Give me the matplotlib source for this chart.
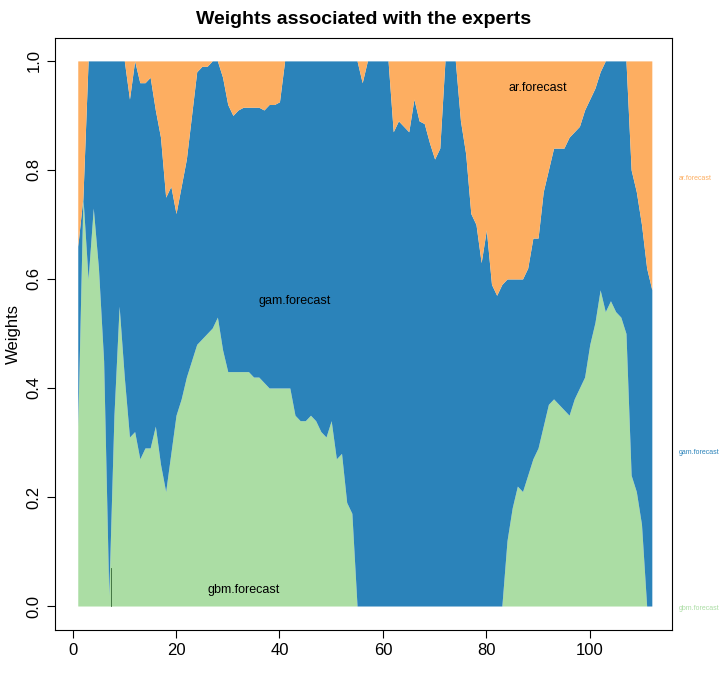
import numpy as np
import matplotlib
matplotlib.use("Agg")
import matplotlib.pyplot as plt

plt.rcParams["font.family"] = ["Liberation Sans", "DejaVu Sans"]

# weights, t = 1..112
gbm = [0.33, 0.75, 0.60, 0.73, 0.62, 0.45, 0.02, 0.35, 0.55, 0.42,
       0.31, 0.32, 0.27, 0.29, 0.29, 0.33, 0.26, 0.21, 0.28, 0.35,
       0.38, 0.42, 0.45, 0.48, 0.49, 0.50, 0.51, 0.53, 0.47, 0.43,
       0.43, 0.43, 0.43, 0.43, 0.42, 0.42, 0.41, 0.40, 0.40, 0.40,
       0.40, 0.40, 0.35, 0.34, 0.34, 0.35, 0.34, 0.32, 0.31, 0.34,
       0.27, 0.28, 0.19, 0.17, 0.0] + [0.0] * 28 + [
       0.12, 0.18, 0.22, 0.21, 0.24, 0.27, 0.29, 0.33, 0.37, 0.38,
       0.37, 0.36, 0.35, 0.38, 0.40, 0.42, 0.48, 0.52, 0.58, 0.54,
       0.56, 0.54, 0.53, 0.50, 0.24, 0.21, 0.15, 0.0, 0.0]
gbm_gam = [0.66, 0.75] + [1.0] * 8 + [
       0.93, 1.0, 0.96, 0.96, 0.97, 0.91, 0.86, 0.75, 0.77, 0.72,
       0.77, 0.82, 0.90, 0.98, 0.99, 0.99, 1.0, 1.0, 0.97, 0.92,
       0.90, 0.91, 0.915, 0.915, 0.915, 0.915, 0.91, 0.92, 0.92, 0.925] + [1.0] * 15 + [
       0.96, 1.0, 1.0, 1.0, 1.0, 1.0, 0.87, 0.89, 0.88, 0.87,
       0.93, 0.89, 0.885, 0.85, 0.82, 0.84, 1.0, 1.0, 1.0, 0.89,
       0.83, 0.72, 0.70, 0.63, 0.69, 0.59, 0.57, 0.59, 0.60, 0.60,
       0.60, 0.60, 0.62, 0.675, 0.675, 0.76, 0.80, 0.84, 0.84, 0.84,
       0.86, 0.87, 0.88, 0.91, 0.93, 0.95, 0.98, 1.0, 1.0, 1.0,
       1.0, 1.0, 0.80, 0.76, 0.70, 0.62, 0.58]
experts = ["gbm.forecast", "gam.forecast", "ar.forecast"]

C_GBM = "#abdda4"
C_GAM = "#2b83ba"
C_AR = "#fdae61"

t = np.arange(1, len(gbm) + 1)
gbm = np.array(gbm)
top = np.array(gbm_gam)

fig = plt.figure(figsize=(7.28, 6.87), dpi=100)
ax = fig.add_axes([55 / 728, 57 / 687, 617 / 728, 592 / 687])
ax.fill_between(t, 0, gbm, color=C_GBM, lw=0)
ax.fill_between(t, gbm, top, color=C_GAM, lw=0)
ax.fill_between(t, top, 1, color=C_AR, lw=0)
ax.plot([7.4, 7.4], [0, 0.07], color="#336633", lw=0.6)

ax.text(33, 0.03, experts[0], ha="center", va="center", fontsize=9)
ax.text(43, 0.56, experts[1], ha="center", va="center", fontsize=9)
ax.text(90, 0.95, experts[2], ha="center", va="center", fontsize=9)

ax.set_xlim(-3.4, 115.9)
ax.set_ylim(-0.044, 1.042)
ax.set_xticks([0, 20, 40, 60, 80, 100])
ax.set_yticks([0.0, 0.2, 0.4, 0.6, 0.8, 1.0])
ax.set_yticklabels(["0.0", "0.2", "0.4", "0.6", "0.8", "1.0"], rotation=90, va="center")
ax.tick_params(labelsize=12, length=6, direction="out")
ax.set_ylabel("Weights", fontsize=12)
ax.set_title("Weights associated with the experts", fontsize=14, weight="bold", pad=10)

fig.text(679 / 728, 1 - 178 / 687, experts[2], color=C_AR, fontsize=5, va="center")
fig.text(679 / 728, 1 - 452 / 687, experts[1], color=C_GAM, fontsize=5, va="center")
fig.text(679 / 728, 1 - 609 / 687, experts[0], color=C_GBM, fontsize=5, va="center")

fig.savefig("out.png", dpi=100)
